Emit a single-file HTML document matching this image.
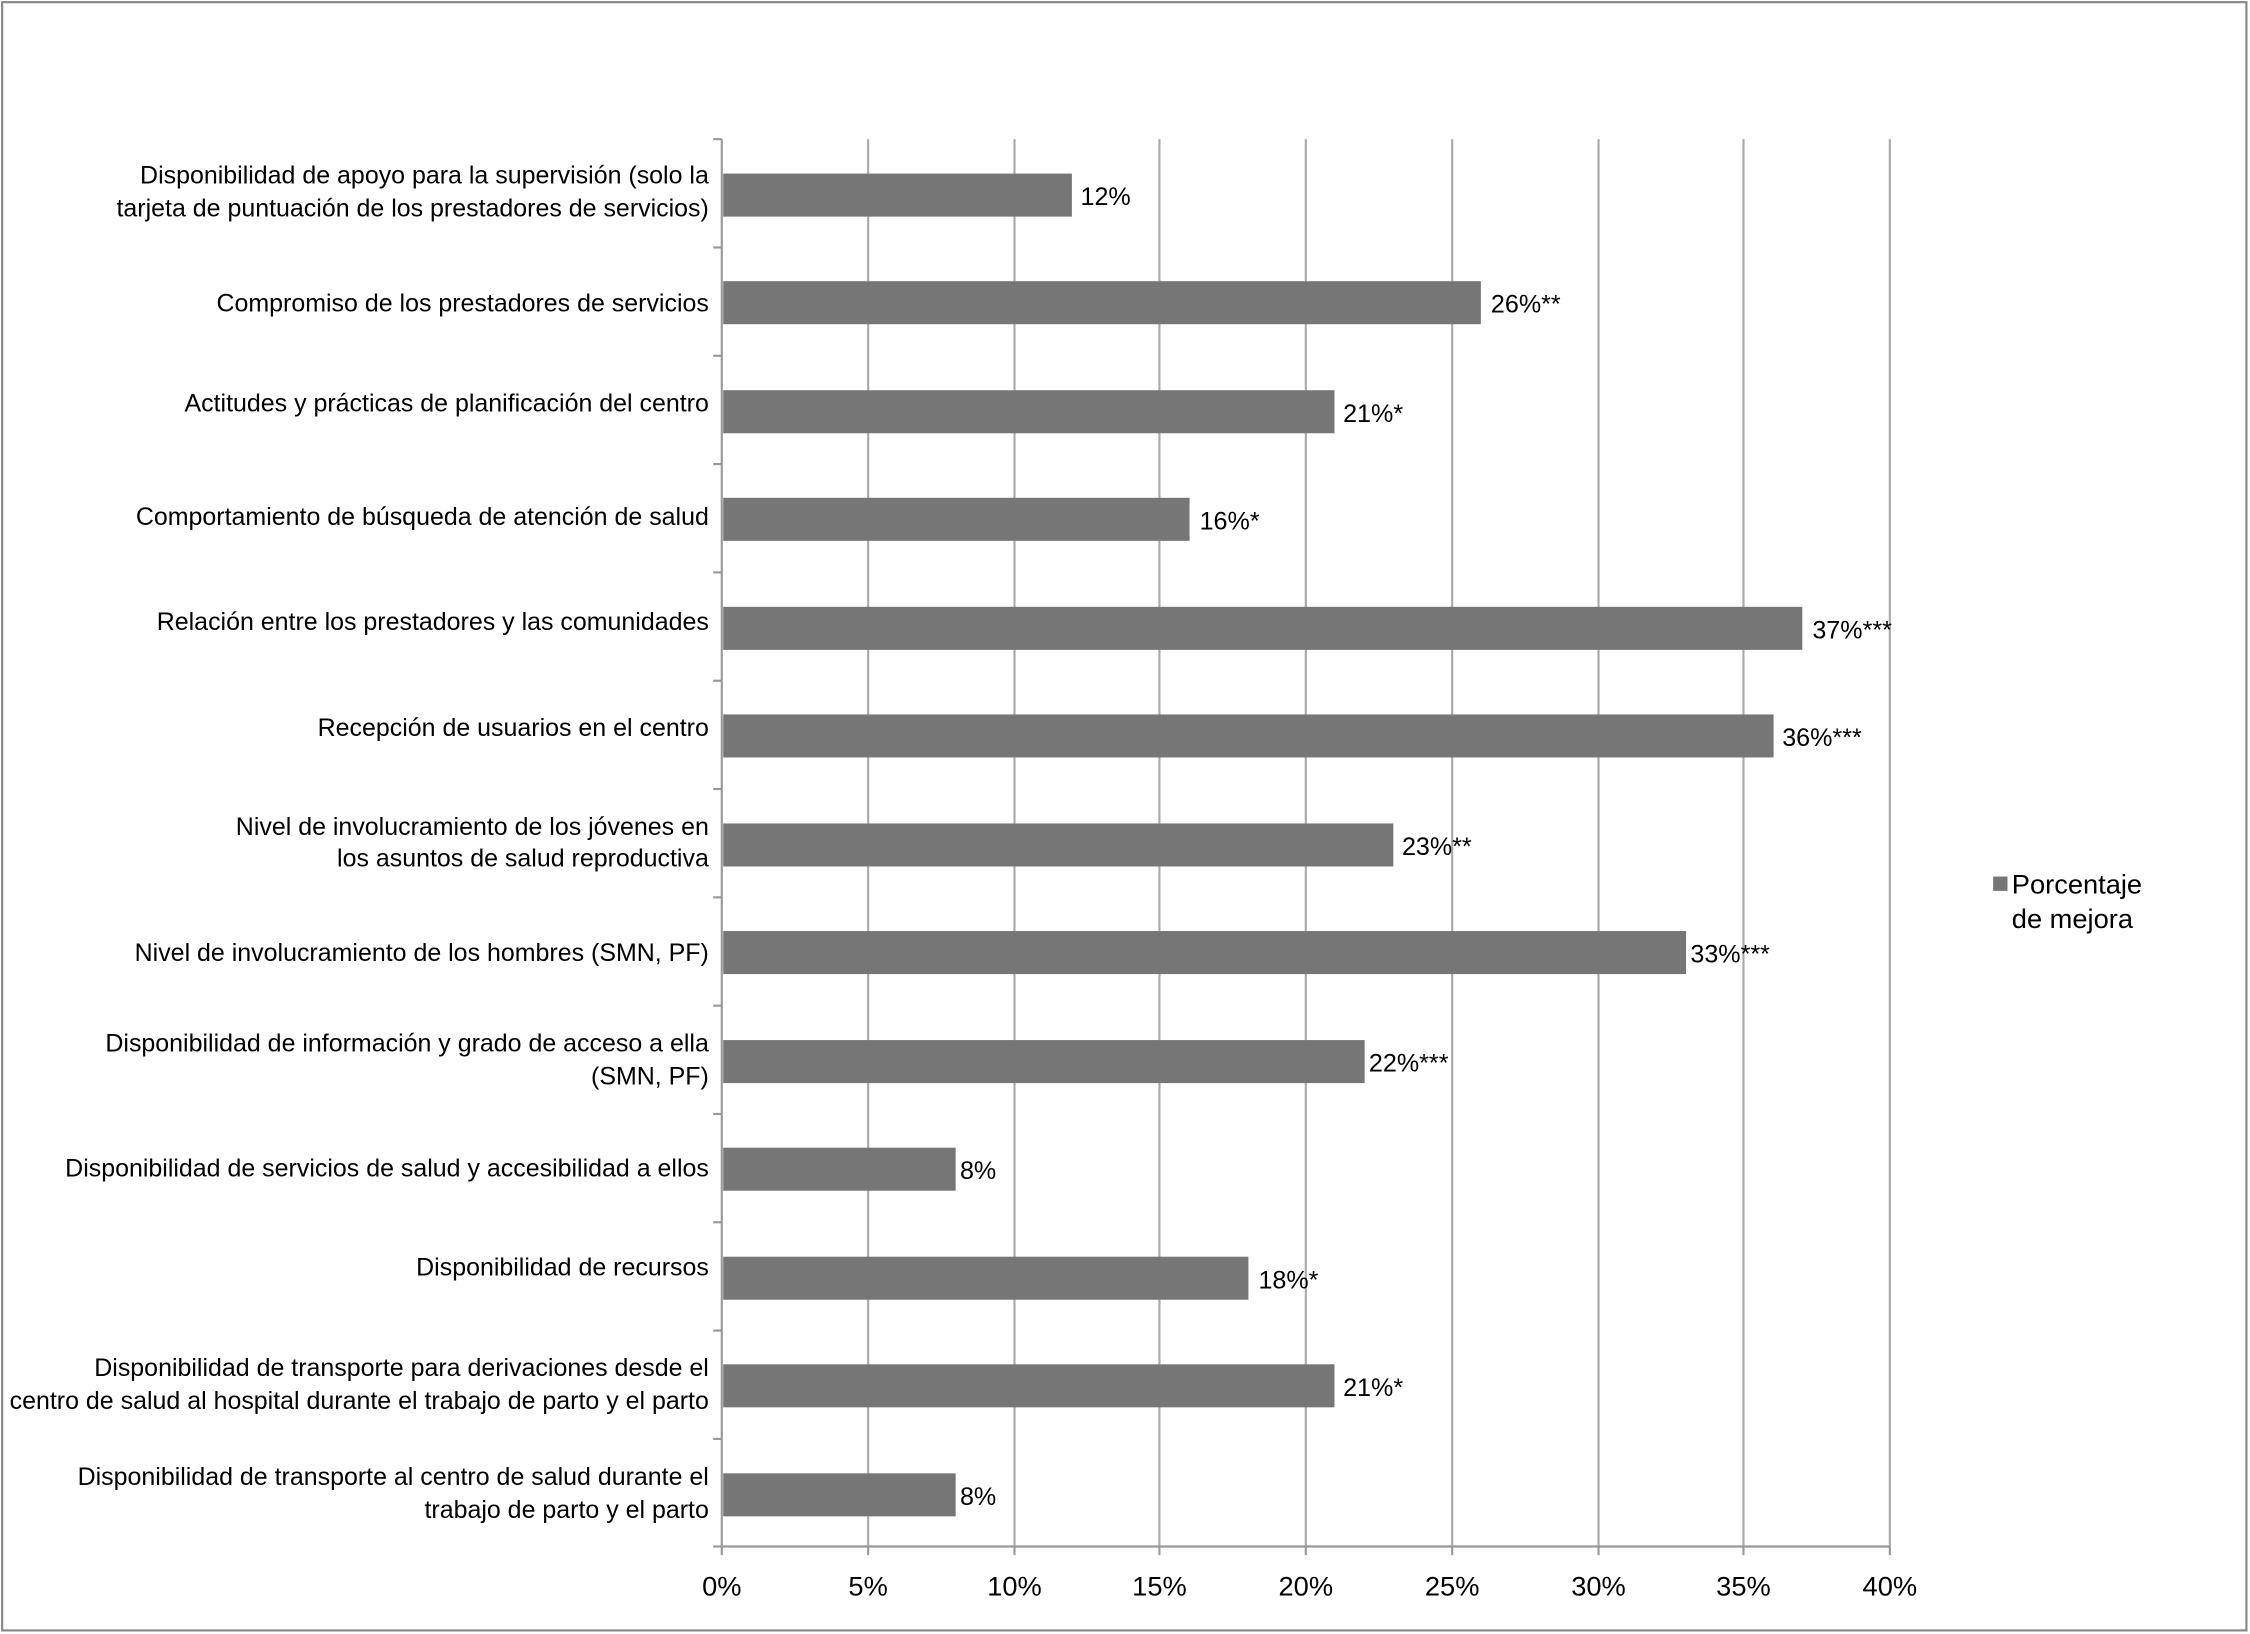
<!DOCTYPE html>
<html><head><meta charset="utf-8"><style>
html,body{margin:0;padding:0;background:#fff}
svg{display:block}
text{font-family:"Liberation Sans",sans-serif;fill:#000}
</style></head><body>
<svg width="2250" height="1634" viewBox="0 0 1568 1139" preserveAspectRatio="none" xmlns="http://www.w3.org/2000/svg">
<rect x="1.5" y="1.5" width="1564" height="1135" fill="#fff" stroke="#888" stroke-width="1.5"/>
<g stroke="#aaa" stroke-width="1.5">
<line x1="605" y1="97" x2="605" y2="1078"/>
<line x1="707" y1="97" x2="707" y2="1078"/>
<line x1="808" y1="97" x2="808" y2="1078"/>
<line x1="910" y1="97" x2="910" y2="1078"/>
<line x1="1012" y1="97" x2="1012" y2="1078"/>
<line x1="1114" y1="97" x2="1114" y2="1078"/>
<line x1="1215" y1="97" x2="1215" y2="1078"/>
<line x1="1317" y1="97" x2="1317" y2="1078"/>
</g>
<g stroke="#999" stroke-width="1.5">
<line x1="503" y1="97" x2="503" y2="1078"/>
<line x1="503" y1="1078" x2="1317" y2="1078"/>
<line x1="497" y1="97" x2="503" y2="97"/>
<line x1="497" y1="172.5" x2="503" y2="172.5"/>
<line x1="497" y1="248" x2="503" y2="248"/>
<line x1="497" y1="323.5" x2="503" y2="323.5"/>
<line x1="497" y1="399" x2="503" y2="399"/>
<line x1="497" y1="474.5" x2="503" y2="474.5"/>
<line x1="497" y1="550" x2="503" y2="550"/>
<line x1="497" y1="625.5" x2="503" y2="625.5"/>
<line x1="497" y1="701" x2="503" y2="701"/>
<line x1="497" y1="776.5" x2="503" y2="776.5"/>
<line x1="497" y1="852" x2="503" y2="852"/>
<line x1="497" y1="927.5" x2="503" y2="927.5"/>
<line x1="497" y1="1003" x2="503" y2="1003"/>
<line x1="497" y1="1078" x2="503" y2="1078"/>
<line x1="605" y1="1078" x2="605" y2="1084"/><line x1="707" y1="1078" x2="707" y2="1084"/><line x1="808" y1="1078" x2="808" y2="1084"/><line x1="910" y1="1078" x2="910" y2="1084"/><line x1="1012" y1="1078" x2="1012" y2="1084"/><line x1="1114" y1="1078" x2="1114" y2="1084"/><line x1="1215" y1="1078" x2="1215" y2="1084"/><line x1="1317" y1="1078" x2="1317" y2="1084"/><line x1="503" y1="1078" x2="503" y2="1084"/>
</g>
<g fill="#767676">
<rect x="504" y="121" width="243" height="30"/>
<rect x="504" y="196" width="528" height="30"/>
<rect x="504" y="272" width="426" height="30"/>
<rect x="504" y="347" width="325" height="30"/>
<rect x="504" y="423" width="752" height="30"/>
<rect x="504" y="498" width="732" height="30"/>
<rect x="504" y="574" width="467" height="30"/>
<rect x="504" y="649" width="671" height="30"/>
<rect x="504" y="725" width="447" height="30"/>
<rect x="504" y="800" width="162" height="30"/>
<rect x="504" y="876" width="366" height="30"/>
<rect x="504" y="951" width="426" height="30"/>
<rect x="504" y="1027" width="162" height="30"/>
</g>
<g font-size="17.5">
<text x="753" y="143">12%</text>
<text x="1039" y="218">26%**</text>
<text x="936" y="294">21%*</text>
<text x="836" y="369">16%*</text>
<text x="1263" y="445">37%***</text>
<text x="1242" y="520">36%***</text>
<text x="977" y="596">23%**</text>
<text x="1178" y="671">33%***</text>
<text x="954" y="747">22%***</text>
<text x="669" y="822">8%</text>
<text x="877" y="898">18%*</text>
<text x="936" y="973">21%*</text>
<text x="669" y="1049">8%</text>
</g>
<g font-size="17.4" text-anchor="end">
<text x="494" y="128">Disponibilidad de apoyo para la supervisión (solo la</text>
<text x="494" y="151">tarjeta de puntuación de los prestadores de servicios)</text>
<text x="494" y="217">Compromiso de los prestadores de servicios</text>
<text x="494" y="287">Actitudes y prácticas de planificación del centro</text>
<text x="494" y="366">Comportamiento de búsqueda de atención de salud</text>
<text x="494" y="439">Relación entre los prestadores y las comunidades</text>
<text x="494" y="513">Recepción de usuarios en el centro</text>
<text x="494" y="582">Nivel de involucramiento de los jóvenes en</text>
<text x="494" y="604">los asuntos de salud reproductiva</text>
<text x="494" y="670">Nivel de involucramiento de los hombres (SMN, PF)</text>
<text x="494" y="733">Disponibilidad de información y grado de acceso a ella</text>
<text x="494" y="756">(SMN, PF)</text>
<text x="494" y="820">Disponibilidad de servicios de salud y accesibilidad a ellos</text>
<text x="494" y="889">Disponibilidad de recursos</text>
<text x="494" y="959">Disponibilidad de transporte para derivaciones desde el</text>
<text x="494" y="982">centro de salud al hospital durante el trabajo de parto y el parto</text>
<text x="494" y="1035">Disponibilidad de transporte al centro de salud durante el</text>
<text x="494" y="1058">trabajo de parto y el parto</text>
</g>
<g font-size="19" text-anchor="middle">
<text x="503" y="1112">0%</text><text x="605" y="1112">5%</text><text x="707" y="1112">10%</text><text x="808" y="1112">15%</text><text x="910" y="1112">20%</text><text x="1012" y="1112">25%</text><text x="1114" y="1112">30%</text><text x="1215" y="1112">35%</text><text x="1317" y="1112">40%</text>
</g>
<rect x="1389" y="611" width="10" height="10" fill="#767676"/>
<text x="1402" y="623" font-size="19">Porcentaje</text>
<text x="1402" y="647" font-size="19">de mejora</text>
</svg>
</body></html>
